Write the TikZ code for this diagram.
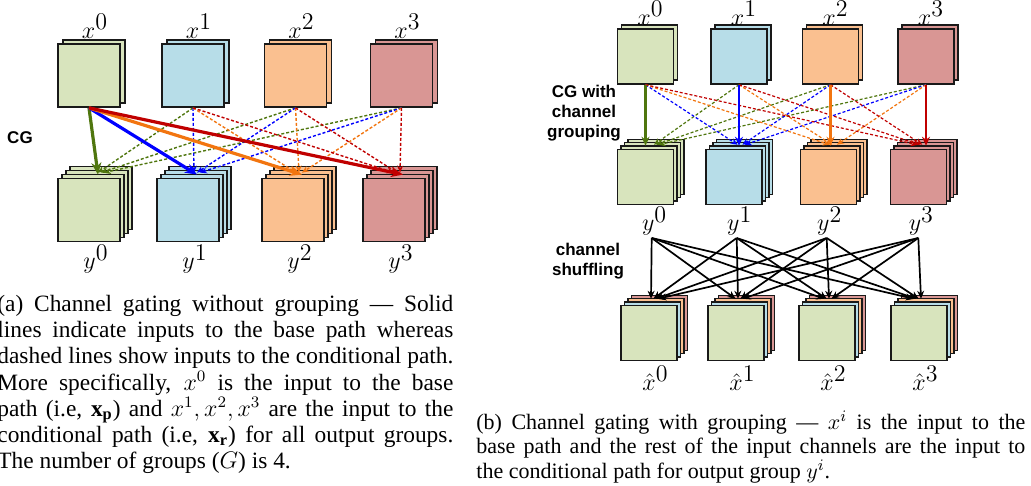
\documentclass[tikz,border=0pt]{standalone}
\usepackage{fontspec}
\setmainfont{Liberation Serif}
\newfontfamily\sflbl{Liberation Sans}
\usetikzlibrary{arrows.meta}

\definecolor{mgreen}{RGB}{216,228,189}
\definecolor{mblue}{RGB}{183,221,232}
\definecolor{morange}{RGB}{250,192,144}
\definecolor{mred}{RGB}{217,150,148}
\definecolor{agreen}{RGB}{79,118,14}
\definecolor{ablue}{RGB}{0,0,255}
\definecolor{aorange}{RGB}{242,117,16}
\definecolor{ared}{RGB}{192,0,0}

\tikzset{
  mapA/.style={draw=black!90, line width=0.9pt, minimum width=31pt, minimum height=31.5pt, inner sep=0pt},
  mapB/.style={draw=black!90, line width=0.75pt, minimum width=28pt, minimum height=27.5pt, inner sep=0pt},
  var/.style={inner sep=0pt, font=\fontsize{12.5}{14}\selectfont},
  tag/.style={align=center, inner sep=0pt, font=\sflbl\bfseries\fontsize{8.5}{10}\selectfont},
  baseA/.style={line width=1.6pt, -{Stealth[length=6pt,width=5pt]}},
  condA/.style={line width=0.7pt, dash pattern=on 1.5pt off 1pt, -{Stealth[length=3.5pt,width=3pt]}},
  baseB/.style={line width=1.3pt, -{Stealth[length=4.5pt,width=4pt]}},
  condB/.style={line width=0.6pt, dash pattern=on 1.5pt off 1pt, -{Stealth[length=3.5pt,width=3pt]}},
  shuf/.style={line width=0.85pt, -{Stealth[length=4pt,width=3.5pt]}},
  captxt/.style={inner sep=0pt, align=justify, anchor=base west}
}

\begin{document}
\begin{tikzpicture}[x=0.5pt, y=-0.5pt]
\useasboundingbox (0,0) rectangle (1031,486);

% (a) without grouping
\foreach \cx/\col [count=\j from 0] in {89/mgreen,188/mblue,293/morange,394/mred}{
  \foreach \k in {3,2,1}
    \node[mapA, fill=\col] at (\cx+4*\k,210-4*\k) {};
  \node[mapA, fill=\col] (ay\j) at (\cx,210) {};
  \node[var] (lay\j) at (\cx+7,259) {$y^{\textstyle\j}$};
}
\foreach \cx/\col [count=\i from 0] in {89/mgreen,193/mblue,295.5/morange,401.5/mred}{
  \node[mapA, fill=\col] at (\cx+5,71.5) {};
  \node[mapA, fill=\col] (ax\i) at (\cx,75.5) {};
  \node[var] (lax\i) at (\cx+6,26.5) {$x^{\textstyle\i}$};
}
\foreach \col [count=\j from 0] in {agreen,ablue,aorange,ared}
  \foreach \i in {1,2,3}
    \draw[condA, \col] (ax\i.south) -- ([xshift={3pt+1.5pt*(\i-\j)}, yshift=2.5pt]ay\j.north);
\foreach \col [count=\j from 0] in {agreen,ablue,aorange,ared}
  \draw[baseA, \col] (ax0.south) -- ([xshift=4.5pt, yshift=1.5pt]ay\j.north);
\node[tag] (cg) at (20,138) {CG};

% (b) with grouping
\foreach \cx/\col [count=\j from 0] in {645.5/mgreen,734/mblue,828.5/morange,918.7/mred}{
  \foreach \k in {3,2,1}
    \node[mapB, fill=\col] at (\cx+3.5*\k,177-3.4*\k) {};
  \node[mapB, fill=\col] (by\j) at (\cx,177) {};
}
\foreach \cx/\col [count=\i from 0] in {645.5/mgreen,739/mblue,830.5/morange,926/mred}{
  \node[mapB, fill=\col] at (\cx+4,52.5) {};
  \node[mapB, fill=\col] (bx\i) at (\cx,56.5) {};
  \node[var] (lbx\i) at (\cx+5,13.5) {$x^{\textstyle\i}$};
}
\foreach \col [count=\j from 0] in {agreen,ablue,aorange,ared}
  \foreach \i in {0,1,2,3}{
    \ifnum\i=\j\relax\else
      \draw[condB, \col] (bx\i.south) -- ([xshift={3pt+1.2pt*(\i-\j)}, yshift=2pt]by\j.north);
    \fi
  }
\foreach \col [count=\j from 0] in {agreen,ablue,aorange,ared}
  \draw[baseB, \col] (bx\j.south) -- ([yshift=1.5pt]bx\j.south |- by\j.north);
\node[tag] (cgg) at (584,112.7) {CG with\\channel\\grouping};

% channel shuffling
\foreach \cx [count=\j from 0] in {649,736,827,919}{
  \foreach \k/\col in {3/mred,2/morange,1/mblue}
    \node[mapB, fill=\col] at (\cx+3.5*\k,333-3.4*\k) {};
  \node[mapB, fill=mgreen] (bh\j) at (\cx,333) {};
  \node[var] (lbh\j) at (\cx+6.5,378) {$\hat{x}^{\textstyle\j}$};
}
\foreach \sx [count=\i from 0] in {651.7,736.7,826.7,918.3}{
  \node[var] (lby\i) at (\sx+3,221) {$y^{\textstyle\i}$};
  \coordinate (s\i) at (\sx,238);
}
\foreach \i in {0,...,3}
  \foreach \j in {0,...,3}
    \draw[shuf] (s\i) -- ([xshift={1pt+1.2pt*(\i-\j)}, yshift=3pt]bh\j.north);
\node[tag] (cs) at (588,261) {channel\\shuffling};

% captions
\node[captxt, text width=228pt, font=\fontsize{11.7}{13.05}\selectfont] (capa) at (-3,311.7) {%
(a) Channel gating without grouping --- Solid\linebreak
lines indicate inputs to the base path whereas\linebreak
dashed lines show inputs to the conditional path.\linebreak
More specifically, $x^0$ is the input to the base\linebreak
path (i.e, $\mathbf{x_p}$) and $x^1, x^2, x^3$ are the input to the\linebreak
conditional path (i.e, $\mathbf{x_r}$) for all output groups.\linebreak
The number of groups ($G$) is 4.};
\node[captxt, text width=274.5pt, font=\fontsize{11}{12.25}\selectfont] (capb) at (476,429.3) {%
(b) Channel gating with grouping --- $x^i$ is the input to the\linebreak
base path and the rest of the input channels are the input to\linebreak
the conditional path for output group $y^i$.};
\end{tikzpicture}
\end{document}
